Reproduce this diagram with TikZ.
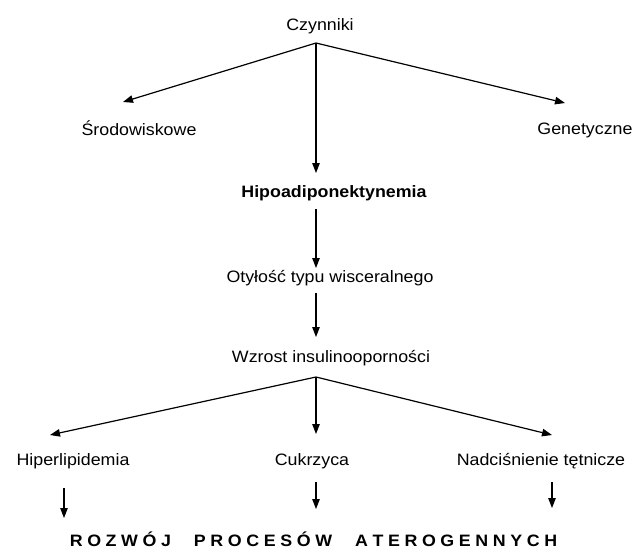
\documentclass[tikz,border=0pt]{standalone}
\usepackage{fontspec}
\setmainfont{Liberation Sans}[FakeStretch=1.08]
\usepackage{tikz}
\usetikzlibrary{arrows.meta,calc,positioning}

\begin{document}
\begin{tikzpicture}[x=1pt,y=-1pt,
    lbl/.style={anchor=base,inner sep=0pt,font=\fontsize{16.5}{19}\selectfont},
    arr/.style={line width=1.2pt,-{Triangle[length=10pt,width=7.5pt]}}]
            \useasboundingbox (0,0) rectangle (640,550);
            % Top: the factors
            \node[lbl] (czyn) at (320,30) {Czynniki};
            \node[lbl] (srod) at (139,135) {Środowiskowe};
            \node[lbl] (gen) at (585,134) {Genetyczne};
            \coordinate (top) at (316,43);
            \coordinate (srodTip) at (123,102);
            \coordinate (genTip) at (565,103);
            \coordinate (hipoTip) at (316,173);
            \draw[arr] (top) -- (srodTip);
            \draw[arr] (top) -- (genTip);
            \draw[arr] (top) -- (hipoTip);
            % The chain in the middle
            \node[lbl,font=\fontsize{16.5}{19}\selectfont\bfseries] (hipo) at (334,197) {Hipoadiponektynemia};
            \node[lbl] (otyl) at (330,282) {Otyłość typu wisceralnego};
            \node[lbl] (wzr) at (331,362) {Wzrost insulinooporności};
            \coordinate (hipoOut) at (316,209);
            \coordinate (otylTip) at (316,268);
            \coordinate (otylOut) at (316,293);
            \coordinate (wzrTip) at (316,337);
            \draw[arr] (hipoOut) -- (otylTip);
            \draw[arr] (otylOut) -- (wzrTip);
            % Bottom: the effects
            \coordinate (mid) at (316,377);
            \node[lbl] (hiper) at (73,465) {Hiperlipidemia};
            \node[lbl] (cukr) at (312,465) {Cukrzyca};
            \node[lbl] (nadc) at (541,465) {Nadciśnienie tętnicze};
            \draw[arr] (mid) -- (50,435) coordinate (hiperTip);
            \draw[arr] (mid) -- (316,434) coordinate (cukrTip);
            \draw[arr] (mid) -- (552,435) coordinate (nadcTip);
            \draw[arr] (64,488) coordinate (hiperOut) -- (64,518) coordinate (hiperEnd);
            \draw[arr] (316,482) coordinate (cukrOut) -- (316,509) coordinate (cukrEnd);
            \draw[arr] (552,482) coordinate (nadcOut) -- (552,508) coordinate (nadcEnd);
            \node[lbl,font=\fontsize{16.5}{19}\selectfont\bfseries] (rozwoj) at (313.5,546)
              {\spaceskip=4.6pt\relax R O Z W Ó J\hspace{23pt}P R O C E S Ó W\hspace{23pt}A T E R O G E N N Y C H};
          \end{tikzpicture}
\end{document}
